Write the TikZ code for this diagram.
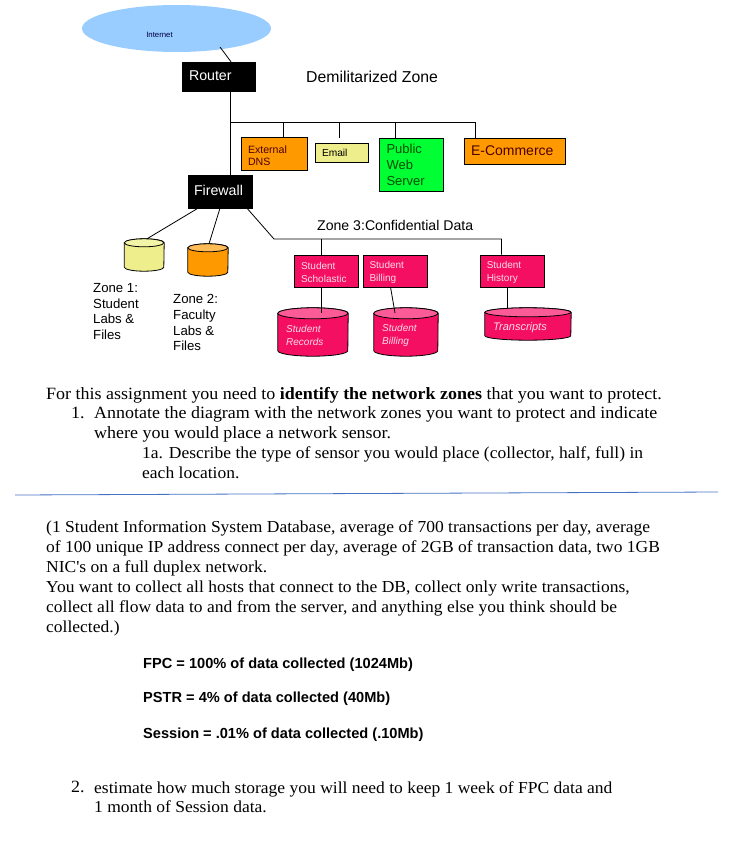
\documentclass[tikz,border=0pt]{standalone}
\usepackage{fontspec}
\defaultfontfeatures[\rmfamily]{}
\setmainfont[FakeStretch=1.045]{Liberation Serif}
\setsansfont{Liberation Sans}
\usetikzlibrary{shapes.geometric}
\definecolor{skyblue}{HTML}{99CCFF}
\definecolor{palelemon}{HTML}{EEEE8C}
\definecolor{paletop}{HTML}{F4F4A8}
\definecolor{ambre}{HTML}{FF9900}
\definecolor{ambretop}{HTML}{FFBB55}
\definecolor{servgreen}{HTML}{00FF33}
\definecolor{crimson}{HTML}{F50F62}
\definecolor{crimsontop}{HTML}{FB5C98}
\definecolor{rulebar}{HTML}{4472C4}
\tikzset{
	wire/.style={draw=black, line width=0.8pt},
	blackbox/.style={draw=black, fill=black, text=white, inner sep=0pt, font=\sffamily\fontsize{14.2}{16}\selectfont},
	hostbox/.style={draw=black, line width=0.8pt, inner sep=0pt, font=\sffamily},
	pinkbox/.style={hostbox, fill=crimson, text=white!85!crimson, font=\sffamily\fontsize{10}{12.8}\selectfont, align=left, text width=51pt},
	storelabel/.style={anchor=west, align=left, inner sep=0pt, text=white!85!crimson, font=\sffamily\itshape\fontsize{10}{12.4}\selectfont},
	zonelabel/.style={anchor=north west, align=left, inner sep=0pt, font=\sffamily\fontsize{13.2}{15.8}\selectfont},
	bodytext/.style={anchor=north west, align=left, inner sep=0pt, font=\fontsize{17.2}{19.9}\selectfont},
	narrowtext/.style={bodytext, font=\fontsize{16.75}{19.9}\selectfont},
	ratetext/.style={anchor=west, inner sep=0pt, font=\sffamily\bfseries\fontsize{14.6}{16}\selectfont}
}
% name, centre x, centre y, width, height, end radius, body colour, end colour
\newcommand{\storedrum}[8]{
	\node[minimum width=#4pt, minimum height=#5pt, inner sep=0pt] (#1) at (#2,#3) {};
	\draw[wire, fill=#7] ([yshift=-#6pt]#1.north west) -- ([yshift=#6pt]#1.south west)
		arc[start angle=180, end angle=360, x radius=#4pt/2, y radius=#6pt]
		-- ([yshift=-#6pt]#1.north east)
		arc[start angle=0, end angle=180, x radius=#4pt/2, y radius=#6pt] -- cycle;
	\draw[wire, fill=#8] ([yshift=-#6pt]#1.north west)
		arc[start angle=180, end angle=540, x radius=#4pt/2, y radius=#6pt] -- cycle;
}
\begin{document}
\begin{tikzpicture}[x=1pt, y=-1pt]
	\useasboundingbox (0,0) rectangle (743,849);
	% Internet cloud and the router under it
	\node[ellipse, fill=skyblue, minimum width=189pt, minimum height=47pt, inner sep=0pt] (cloud) at (176.5,28.5) {};
	\node[inner sep=0pt, text=black!75!blue, font=\sffamily\fontsize{7.8}{8}\selectfont] (cloudname) at (159.5,34.5) {Internet};
	\node[blackbox, minimum width=73pt, minimum height=29pt, text width=59pt] (router) at (218.5,76.5) {\raisebox{1pt}{Router}};
	\node[blackbox, minimum width=64pt, minimum height=33pt, text width=52pt] (firewall) at (220,191.5) {\raisebox{3pt}{Firewall}};
	\coordinate (cloudfoot) at (220,47);
	\coordinate (dmzbus) at (230,122.5);
	\draw[wire] (cloudfoot) -- (router.north -| 231,0);
	\draw[wire] (router.south -| dmzbus) -- (firewall.north -| dmzbus);
	\node[anchor=west, inner sep=0pt, font=\sffamily\fontsize{15.8}{18}\selectfont] (dmzname) at (306,76.5) {Demilitarized Zone};
	% Demilitarized zone servers
	\node[hostbox, fill=ambre, minimum width=66.5pt, minimum height=33pt, align=left, text width=52.5pt, text=black!70!red, font=\sffamily\fontsize{10.6}{12.8}\selectfont] (dns) at (274.25,153.5) {\rule{0pt}{12pt}External\\DNS};
	\node[hostbox, fill=palelemon, minimum width=53.5pt, minimum height=19pt, text width=39.5pt, font=\sffamily\fontsize{10.2}{11}\selectfont] (email) at (341.75,152.5) {Email};
	\node[hostbox, fill=servgreen, minimum width=64pt, minimum height=53pt, align=left, text width=50pt, text=black!70!green, font=\sffamily\fontsize{13}{15.8}\selectfont] (webserver) at (411.5,165) {Public\\Web\\Server};
	\node[hostbox, fill=ambre, minimum width=101.5pt, minimum height=26pt, text width=87.5pt, text=black!70!red, font=\sffamily\fontsize{14}{15}\selectfont] (shop) at (514.75,151) {E-Commerce};
	\coordinate (dnsdrop) at (283,122.5);
	\coordinate (emaildrop) at (339.5,122.5);
	\coordinate (webdrop) at (395,122.5);
	\coordinate (shopdrop) at (475.5,122.5);
	\draw[wire] (dmzbus) -- (shopdrop) -- (shopdrop |- shop.north);
	\draw[wire] (dnsdrop) -- (dnsdrop |- dns.north);
	\draw[wire] (emaildrop) -- (339.5,138);
	\draw[wire] (webdrop) -- (webdrop |- webserver.north);
	% Zones 1 and 2
	\storedrum{zoneonedb}{144.25}{255}{39.5}{32}{4}{palelemon}{paletop}
	\storedrum{zonetwodb}{208}{260}{40}{32}{4}{ambre}{ambretop}
	\draw[wire] (firewall.south -| 198,0) -- (zoneonedb.north -| 147,0);
	\draw[wire] (firewall.south -| 220,0) -- (zonetwodb.north -| 209,0);
	\node[zonelabel] (zoneone) at (93,283) {Zone 1:\\Student\\Labs \&\\Files};
	\node[zonelabel] (zonetwo) at (173,294) {Zone 2:\\Faculty\\Labs \&\\Files};
	% Zone 3
	\node[anchor=west, inner sep=0pt, font=\sffamily\fontsize{14.1}{16}\selectfont] (zonethree) at (317,225) {Zone 3:Confidential Data};
	\node[pinkbox, minimum width=64pt, minimum height=32pt] (scholastic) at (326.5,271) {\rule{0pt}{9.5pt}Student\\Scholastic};
	\node[pinkbox, minimum width=64pt, minimum height=32pt] (billing) at (395,271) {\rule{0pt}{9.5pt}Student\\Billing};
	\node[pinkbox, minimum width=64.5pt, minimum height=32pt] (history) at (512.25,271) {\rule{0pt}{9.5pt}Student\\History};
	\coordinate (zonebend) at (274,239);
	\coordinate (historydrop) at (501.5,239);
	\coordinate (scholasticdrop) at (321.5,239);
	\draw[wire] (firewall.south -| 247,0) -- (zonebend) -- (historydrop) -- (historydrop |- history.north);
	\draw[wire] (scholasticdrop) -- (scholasticdrop |- scholastic.north);
	\storedrum{records}{313}{332}{70}{48}{5.5}{crimson}{crimsontop}
	\storedrum{billingdb}{406}{332}{64}{48}{5.5}{crimson}{crimsontop}
	\storedrum{transcripts}{528}{324}{86}{32}{4.5}{crimson}{crimsontop}
	\draw[wire] (scholasticdrop |- scholastic.south) -- (321.5,313);
	\draw[wire] (390.5,287) -- (395,313);
	\draw[wire] (507.5,287) -- (507.5,308);
	\node[storelabel] (recordsname) at (286,335.5) {Student\\Records};
	\node[storelabel] (billingname) at (382,335.5) {Student\\Billing};
	\node[storelabel, font=\sffamily\itshape\fontsize{11}{12.6}\selectfont] (transcriptsname) at (493,327.5) {Transcripts};
	% Assignment text
	\node[bodytext] (intro) at (46,387) {For this assignment you need to \textbf{identify the network zones} that you want to protect.};
	\node[bodytext] (numone) at (71,406.5) {1.};
	\node[bodytext] (taskone) at (94,406.5) {Annotate the diagram with the network zones you want to protect and indicate\\where you would place a network sensor.};
	\node[narrowtext] (taskonea) at (142,446.5) {1a. Describe the type of sensor you would place (collector, half, full) in\\each location.};
	\coordinate (ruleleft) at (15,495);
	\coordinate (ruleright) at (718,492);
	\draw[rulebar, line width=0.8pt] (ruleleft) -- (ruleright);
	\node[narrowtext] (casetext) at (46,520.5) {(1 Student Information System Database, average of 700 transactions per day, average\\of 100 unique IP address connect per day, average of 2GB of transaction data, two 1GB\\NIC's on a full duplex network.\\You want to collect all hosts that connect to the DB, collect only write transactions,\\collect all flow data to and from the server, and anything else you think should be\\collected.)};
	\node[ratetext] (fpc) at (143,665) {FPC = 100\% of data collected (1024Mb)};
	\node[ratetext] (pstr) at (143,699) {PSTR = 4\% of data collected (40Mb)};
	\node[ratetext] (session) at (143,734.5) {Session = .01\% of data collected (.10Mb)};
	\node[bodytext] (numtwo) at (71,781) {2.};
	\node[narrowtext] (tasktwo) at (94,781) {estimate how much storage you will need to keep 1 week of FPC data and\\1 month of Session data.};
\end{tikzpicture}
\end{document}
